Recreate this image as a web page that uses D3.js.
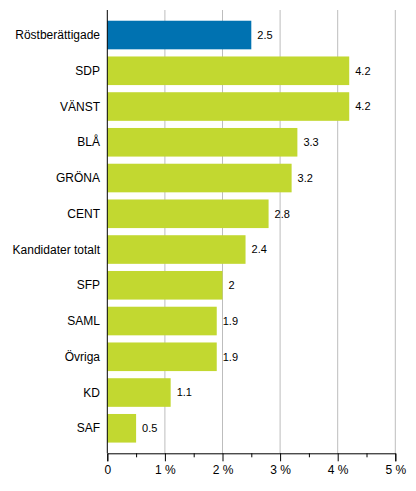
<!DOCTYPE html>
<html><head><meta charset="utf-8">
<script src="https://cdn.jsdelivr.net/npm/d3@7"></script>
<style>body{margin:0;background:#fff}svg{display:block}</style>
</head><body>
<svg id="c" width="416" height="491"></svg>
<script>
const categories = ["Röstberättigade","SDP","VÄNST","BLÅ","GRÖNA","CENT","Kandidater totalt","SFP","SAML","Övriga","KD","SAF"];
const values = [2.5,4.2,4.2,3.3,3.2,2.8,2.4,2,1.9,1.9,1.1,0.5];
const highlight = ["Röstberättigade"];
const xTicks = [0,1,2,3,4,5];
const xTickLabels = ["0","1 %","2 %","3 %","4 %","5 %"];
const minorTicks = [0.5,1.5,2.5,3.5,4.5];

const svg = d3.select("#c");
const font = "'Liberation Sans', Arial, sans-serif";
const x = d3.scaleLinear().domain([0,5]).range([107.3,395.3]);
const y = d3.scaleBand().domain(categories).range([10,453.3]).paddingInner(0.2).paddingOuter(0.3);
const axisY = 453.3;

svg.append("g").selectAll("line").data(xTicks.slice(1)).join("line")
  .attr("x1",d=>x(d)).attr("x2",d=>x(d)).attr("y1",10).attr("y2",axisY)
  .attr("stroke","#bdbdbd").attr("stroke-width",1);

svg.append("g").selectAll("rect").data(categories).join("rect")
  .attr("x",x(0)).attr("y",d=>y(d)).attr("height",y.bandwidth())
  .attr("width",(d,i)=>x(values[i])-x(0))
  .attr("fill",d=>highlight.includes(d)?"#0072b1":"#c2d830");

svg.append("g").selectAll("text").data(categories).join("text")
  .attr("x",(d,i)=>x(values[i])+6).attr("y",d=>y(d)+y.bandwidth()/2)
  .attr("dy","0.35em").attr("font-family",font).attr("font-size",11).attr("fill","#000")
  .text((d,i)=>values[i]);

svg.append("g").selectAll("text").data(categories).join("text")
  .attr("x",100).attr("y",d=>y(d)+y.bandwidth()/2)
  .attr("dy","0.35em").attr("text-anchor","end").attr("font-family",font).attr("font-size",12).attr("fill","#000")
  .text(d=>d);

const xAxis = d3.axisBottom(x).tickValues(xTicks).tickFormat((d,i)=>xTickLabels[i]).tickSize(8).tickPadding(4);
const gx = svg.append("g").attr("transform",`translate(0,${axisY})`).call(xAxis);
gx.select(".domain").attr("stroke","#000");
gx.selectAll(".tick line").attr("stroke","#000");
gx.selectAll("text").attr("font-family",font).attr("font-size",12).attr("fill","#000");
svg.append("g").attr("transform",`translate(0,${axisY})`)
  .call(d3.axisBottom(x).tickValues(minorTicks).tickSize(4).tickFormat(""))
  .call(g=>{g.select(".domain").remove();g.selectAll("line").attr("stroke","#000");});

svg.append("line").attr("x1",x(0)).attr("x2",x(0)).attr("y1",10).attr("y2",axisY).attr("stroke","#000");
</script>
</body></html>
